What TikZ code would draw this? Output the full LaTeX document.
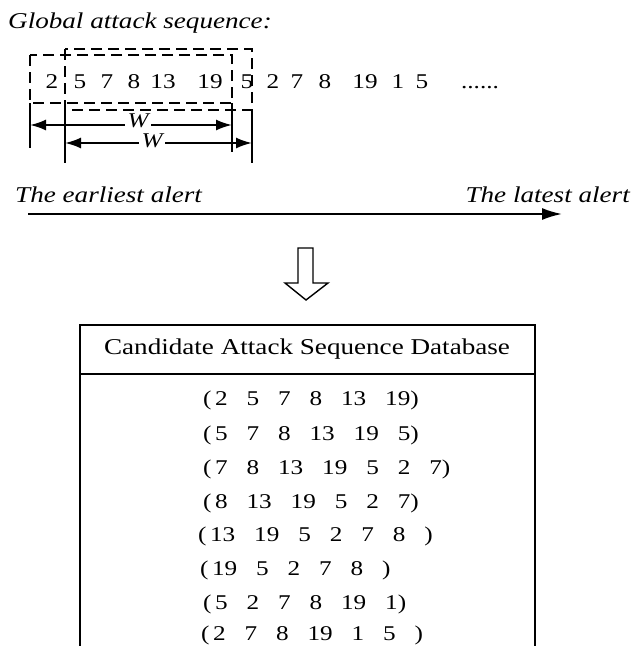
\documentclass[tikz,border=0pt]{standalone}
\usepackage{fontspec}
\setmainfont[FakeStretch=1.2]{Liberation Serif}
\usetikzlibrary{arrows.meta}
\newcommand\rowfont{\fontsize{21}{24}\selectfont\spaceskip 0.9em\relax}
\begin{document}
\begin{tikzpicture}[x=1pt,y=-1pt,line cap=butt,>={Latex[length=16pt,width=11pt]}]
  \tikzset{
    numtxt/.style={font=\fontsize{21}{24}\selectfont, inner sep=0pt, anchor=base},
    rowtxt/.style={font=\rowfont, inner sep=0pt, anchor=base west},
    itxt/.style={font=\fontsize{22.6}{26}\selectfont\itshape, inner sep=0pt},
    winbox/.style={line width=2pt, dash pattern=on 11pt off 6pt},
    wline/.style={line width=1.5pt},
    warrow/.style={line width=2pt, <->},
  }
  \useasboundingbox (0,0) rectangle (632,646);
  % global sequence
  \node[itxt, anchor=base west] (title) at (8,28) {Global attack sequence:};
  \foreach \x/\t [count=\i] in {52/2,80/5,107/7,134/8,163/13,210/19,247/5,273/2,297/7,325/8,365/19,398/1,422/5,480/{......}}
    \node[numtxt] (s\i) at (\x,88) {\t};
  % sliding windows
  \draw[winbox] (30,55) rectangle (232,103);
  \draw[winbox] (65,49) rectangle (252,110);
  \coordinate (w1a) at (30,125);
  \coordinate (w1b) at (232,125);
  \coordinate (w2a) at (65,143);
  \coordinate (w2b) at (252,143);
  \draw[wline] (30,103) -- (30,148);
  \draw[wline] (232,103) -- (232,152);
  \draw[wline] (65,110) -- (65,163);
  \draw[wline] (252,110) -- (252,163);
  \draw[warrow] (w1a) -- (w1b);
  \draw[warrow] (w2a) -- (w2b);
  \node[font=\fontsize{21}{24}\selectfont\itshape, fill=white, inner sep=3pt] (lw1) at (138,121) {W};
  \node[font=\fontsize{21}{24}\selectfont\itshape, fill=white, inner sep=3pt] (lw2) at (152,141) {W};
  % time axis
  \node[itxt, anchor=base west] (early) at (15,202) {The earliest alert};
  \node[itxt, anchor=base east] (late) at (630,202) {The latest alert};
  \coordinate (t0) at (28,214);
  \coordinate (t1) at (562,214);
  \draw[line width=2pt, -{Latex[length=20pt,width=12pt]}] (t0) -- (t1);
  % hollow arrow
  \draw[line width=1.4pt, line join=miter] (298,248) -- (298,283) -- (285,283) -- (306,300)
    -- (328,283) -- (313,283) -- (313,248) -- cycle;
  % database
  \draw[line width=2pt] (80,646) -- (80,325) -- (535,325) -- (535,646);
  \draw[line width=2pt] (80,374) -- (535,374);
  \node[font=\fontsize{22.6}{26}\selectfont, inner sep=0pt, anchor=base] (head) at (307,354) {Candidate Attack Sequence Database};
  \foreach \x/\y/\t [count=\i] in {
      203/405/{(\,2 5 7 8 13 19)},
      203/440/{(\,5 7 8 13 19 5)},
      203/474/{(\,7 8 13 19 5 2 7)},
      203/508/{(\,8 13 19 5 2 7)},
      198/541/{(\,13 19 5 2 7 8 )},
      200/575/{(\,19 5 2 7 8 )},
      203/609/{(\,5 2 7 8 19 1)},
      201/640/{(\,2 7 8 19 1 5 )}}
    \node[rowtxt] (r\i) at (\x,\y) {\t};
\end{tikzpicture}
\end{document}
